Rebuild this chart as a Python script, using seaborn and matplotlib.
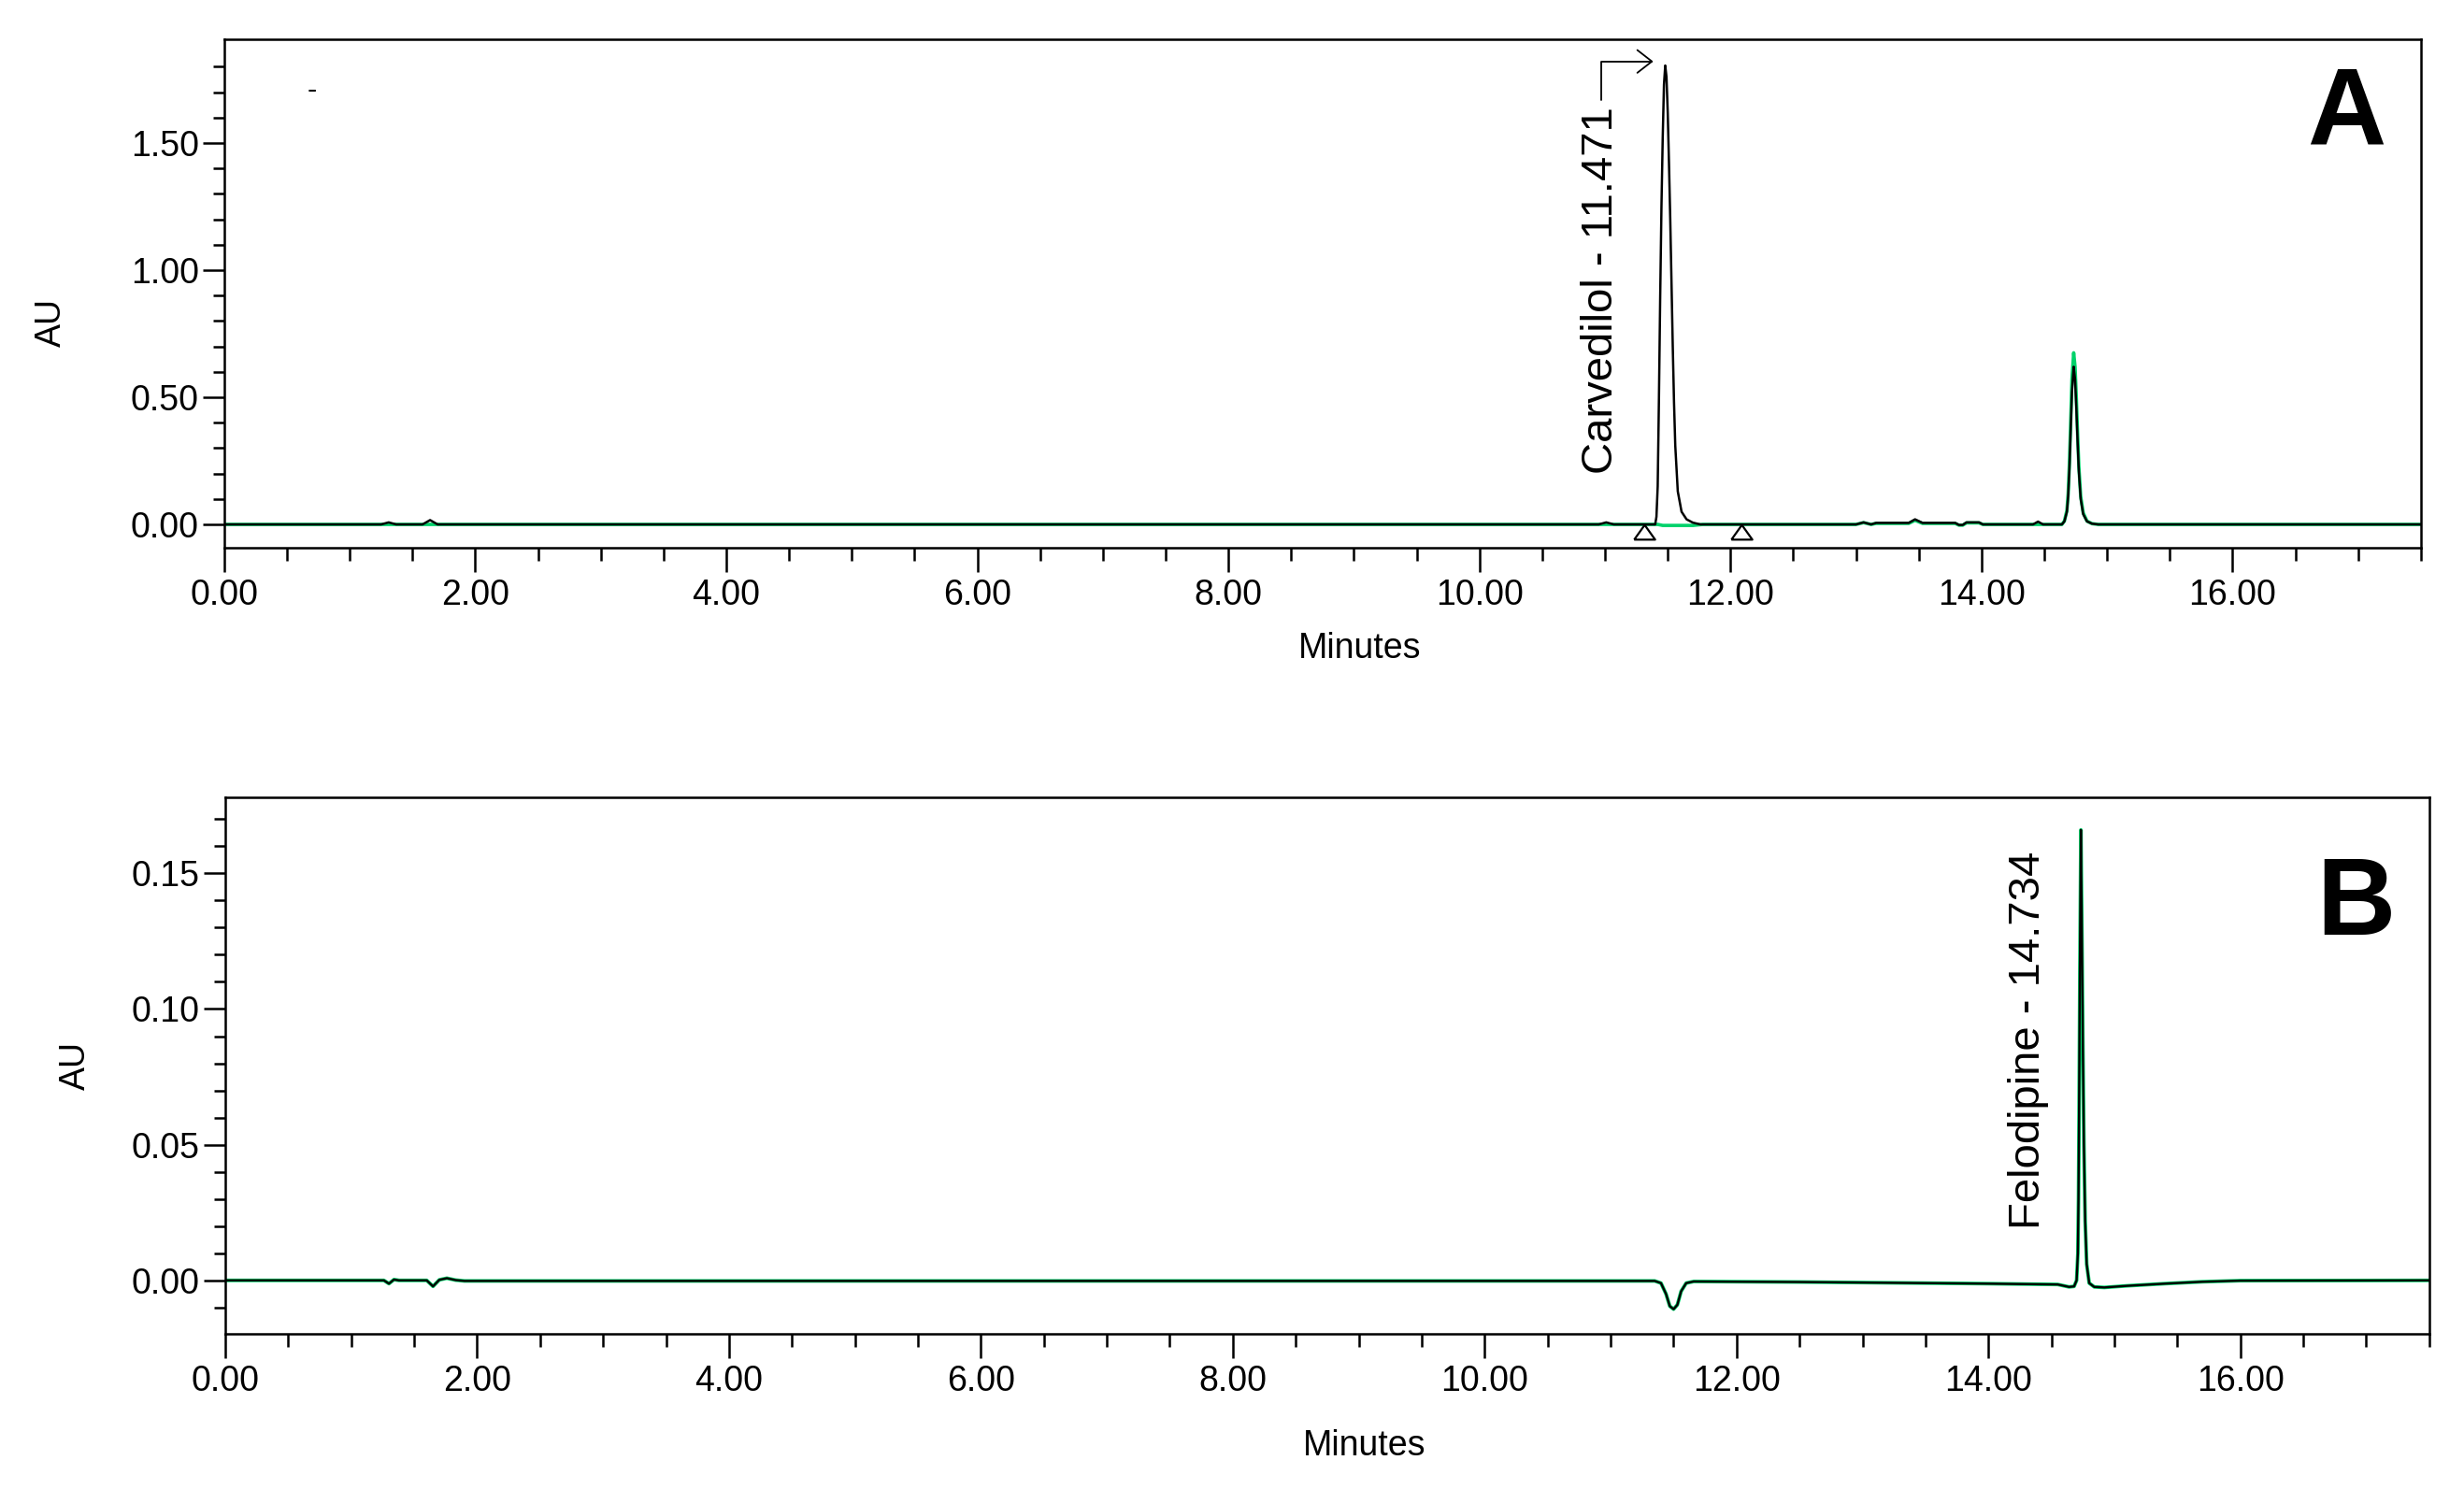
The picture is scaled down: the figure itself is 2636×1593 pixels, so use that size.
import numpy as np
import pandas as pd
import matplotlib
matplotlib.use("Agg")
import matplotlib.pyplot as plt
from matplotlib.ticker import MultipleLocator, FixedLocator, FormatStrFormatter
import seaborn as sns

# Panel A - black trace (minutes, AU)
a_time = [0.00, 1.25, 1.31, 1.37, 1.58, 1.64, 1.70, 10.95, 11.01, 11.07,
          11.40, 11.41, 11.42, 11.43, 11.44, 11.45, 11.46, 11.47, 11.48, 11.49,
          11.50, 11.51, 11.52, 11.53, 11.54, 11.55, 11.56, 11.58, 11.61, 11.65,
          11.70, 11.76, 13.00, 13.06, 13.12, 13.16, 13.42, 13.47, 13.53, 13.79,
          13.82, 13.85, 13.88, 13.98, 14.01, 14.41, 14.45, 14.49, 14.64, 14.66,
          14.68, 14.69, 14.70, 14.71, 14.72, 14.734, 14.745, 14.755, 14.765, 14.775,
          14.79, 14.81, 14.84, 14.88, 14.93, 17.50]
a_black = [0, 0, 0.008, 0, 0, 0.017, 0, 0, 0.008, 0,
           0, 0.03, 0.15, 0.50, 0.90, 1.25, 1.52, 1.73, 1.805, 1.76,
           1.62, 1.42, 1.20, 0.95, 0.70, 0.48, 0.31, 0.13, 0.05, 0.02,
           0.007, 0, 0, 0.008, 0, 0.006, 0.006, 0.020, 0.006, 0.006,
           -0.002, -0.002, 0.008, 0.008, 0, 0, 0.011, 0, 0, 0.012,
           0.05, 0.11, 0.22, 0.37, 0.52, 0.62, 0.57, 0.46, 0.33, 0.21,
           0.10, 0.04, 0.012, 0.003, 0, 0]

# Panel A - green trace
g_time = [0.00, 11.42, 11.46, 11.70, 11.78, 13.00, 13.06, 13.12, 13.16, 13.42,
          13.47, 13.53, 13.79, 13.82, 13.85, 13.88, 13.98, 14.01, 14.64, 14.66,
          14.68, 14.69, 14.70, 14.71, 14.72, 14.734, 14.745, 14.755, 14.765, 14.775,
          14.79, 14.81, 14.84, 14.88, 14.93, 17.50]
g_green = [0, 0, -0.004, -0.004, 0, 0, 0.007, 0, 0.004, 0.004,
           0.016, 0.004, 0.004, -0.003, -0.003, 0.006, 0.006, 0, 0, 0.013,
           0.055, 0.12, 0.24, 0.40, 0.57, 0.675, 0.62, 0.50, 0.36, 0.23,
           0.11, 0.045, 0.013, 0.003, 0, 0]

# Panel B - trace (black and green overlap)
b_time = [0.00, 1.26, 1.30, 1.34, 1.38, 1.60, 1.65, 1.70, 1.76, 1.83,
          1.90, 11.35, 11.40, 11.44, 11.47, 11.50, 11.53, 11.56, 11.60, 11.66,
          12.50, 14.00, 14.55, 14.64, 14.68, 14.70, 14.71, 14.715, 14.72, 14.726,
          14.734, 14.742, 14.75, 14.758, 14.768, 14.78, 14.80, 14.84, 14.92, 15.10,
          15.40, 15.70, 16.00, 17.50]
b_vals = [0, 0, -0.0012, 0.0003, 0, 0, -0.0022, 0.0002, 0.0008, 0.0001,
          -0.0002, -0.0002, -0.001, -0.005, -0.0095, -0.0106, -0.009, -0.004, -0.001, -0.0004,
          -0.0006, -0.0012, -0.0015, -0.0024, -0.0022, 0.0, 0.01, 0.03, 0.065, 0.115,
          0.166, 0.128, 0.085, 0.05, 0.022, 0.006, -0.001, -0.0024, -0.0026, -0.002,
          -0.0012, -0.0005, -0.0001, 0]

# integration markers in panel A
tri_time = [11.31, 12.09]
tri_level = [-0.028, -0.028]

# peak labels
peak_names = ["Carvedilol", "Felodipine"]
peak_times = [11.471, 14.734]
label_x = [10.97, 14.32]
label_y = [0.20, 0.019]

panel_letters = ["A", "B"]

df_a = pd.DataFrame({"Minutes": a_time, "AU": a_black})
df_g = pd.DataFrame({"Minutes": g_time, "AU": g_green})
df_b = pd.DataFrame({"Minutes": b_time, "AU": b_vals})

sns.set_style("ticks")
plt.rcParams["font.family"] = ["Liberation Sans", "DejaVu Sans"]
plt.rcParams["text.color"] = "black"
plt.rcParams["axes.labelcolor"] = "black"
plt.rcParams["xtick.color"] = "black"
plt.rcParams["ytick.color"] = "black"
plt.rcParams["axes.edgecolor"] = "black"

green = "#00d26a"

fig = plt.figure(figsize=(26.36, 15.93), dpi=100)
ax_a = fig.add_axes([0.0910, 0.6321, 0.8915, 0.3415])
ax_b = fig.add_axes([0.0914, 0.1042, 0.8945, 0.3603])

# Panel A
sns.lineplot(data=df_g, x="Minutes", y="AU", color=green, lw=2.6, estimator=None,
             sort=False, ax=ax_a)
sns.lineplot(data=df_a, x="Minutes", y="AU", color="black", lw=1.8, estimator=None,
             sort=False, ax=ax_a)
sns.scatterplot(x=tri_time, y=tri_level, marker=[(-1, -0.7), (1, -0.7), (0, 0.7), (-1, -0.7)],
                s=260, color="white", edgecolor="black", linewidth=1.6, zorder=5, ax=ax_a)

# Panel B
sns.lineplot(data=df_b, x="Minutes", y="AU", color=green, lw=2.8, estimator=None,
             sort=False, ax=ax_b)
sns.lineplot(data=df_b, x="Minutes", y="AU", color="black", lw=1.7, estimator=None,
             sort=False, ax=ax_b)

ax_a.set_ylim(-0.092, 1.908)
ax_a.yaxis.set_major_locator(MultipleLocator(0.5))
ax_a.yaxis.set_minor_locator(FixedLocator(np.arange(0, 1.85, 0.1)))
ax_b.set_ylim(-0.0197, 0.178)
ax_b.yaxis.set_major_locator(MultipleLocator(0.05))
ax_b.yaxis.set_minor_locator(MultipleLocator(0.01))

for ax in (ax_a, ax_b):
    ax.set_xlim(0, 17.5)
    ax.xaxis.set_major_locator(MultipleLocator(2))
    ax.xaxis.set_minor_locator(MultipleLocator(0.5))
    ax.xaxis.set_major_formatter(FormatStrFormatter("%.2f"))
    ax.yaxis.set_major_formatter(FormatStrFormatter("%.2f"))
    ax.tick_params(axis="x", which="major", direction="out", length=18.5, width=1.8,
                   labelsize=27, pad=5, color="black", labelcolor="black")
    ax.tick_params(axis="x", which="minor", direction="out", length=10, width=1.8, color="black")
    ax.tick_params(axis="y", which="major", direction="out", length=16.5, width=1.8,
                   labelsize=27, pad=3, color="black", labelcolor="black")
    ax.tick_params(axis="y", which="minor", direction="out", length=8.5, width=1.8, color="black")
    for sp in ax.spines.values():
        sp.set_visible(True)
        sp.set_linewidth(1.8)
        sp.set_color("black")
    ax.set_xlabel("Minutes", fontsize=27, color="black")
    ax.set_ylabel("AU", fontsize=27, color="black")
    ax.xaxis.label.set_va("center")
    ax.yaxis.label.set_va("center")

ax_a.xaxis.set_label_coords(0.517, -0.199)
ax_a.yaxis.set_label_coords(-0.0787, 0.443)
ax_b.xaxis.set_label_coords(0.517, -0.209)
ax_b.yaxis.set_label_coords(-0.0679, 0.5)

# peak labels
for ax, name, t, lx, ly in zip((ax_a, ax_b), peak_names, peak_times, label_x, label_y):
    ax.text(lx, ly, f"{name} - {t:.3f}", rotation=90, rotation_mode="anchor",
            ha="left", va="center", fontsize=34, color="black")

# arrow from carvedilol label up to its apex
ax_a.annotate("", xy=(peak_times[0] - 0.086, 1.821), xytext=(label_x[0], 1.669),
              arrowprops=dict(arrowstyle="->,head_length=0.45,head_width=0.35",
                              connectionstyle="angle,angleA=90,angleB=0,rad=0",
                              color="black", lw=1.3, shrinkA=0, shrinkB=0,
                              mutation_scale=25))

# stray dash near the top left of panel A
ax_a.text(0.70, 1.705, "-", fontsize=22, ha="center", va="center", color="black")

# panel letters
ax_a.text(0.966, 0.794, panel_letters[0], transform=ax_a.transAxes, fontsize=84,
          fontweight="bold", ha="center", va="baseline", color="black")
ax_b.text(0.9665, 0.744, panel_letters[1], transform=ax_b.transAxes, fontsize=84,
          fontweight="bold", ha="center", va="baseline", color="black")

fig.savefig("out.png", dpi=100)
plt.close(fig)
